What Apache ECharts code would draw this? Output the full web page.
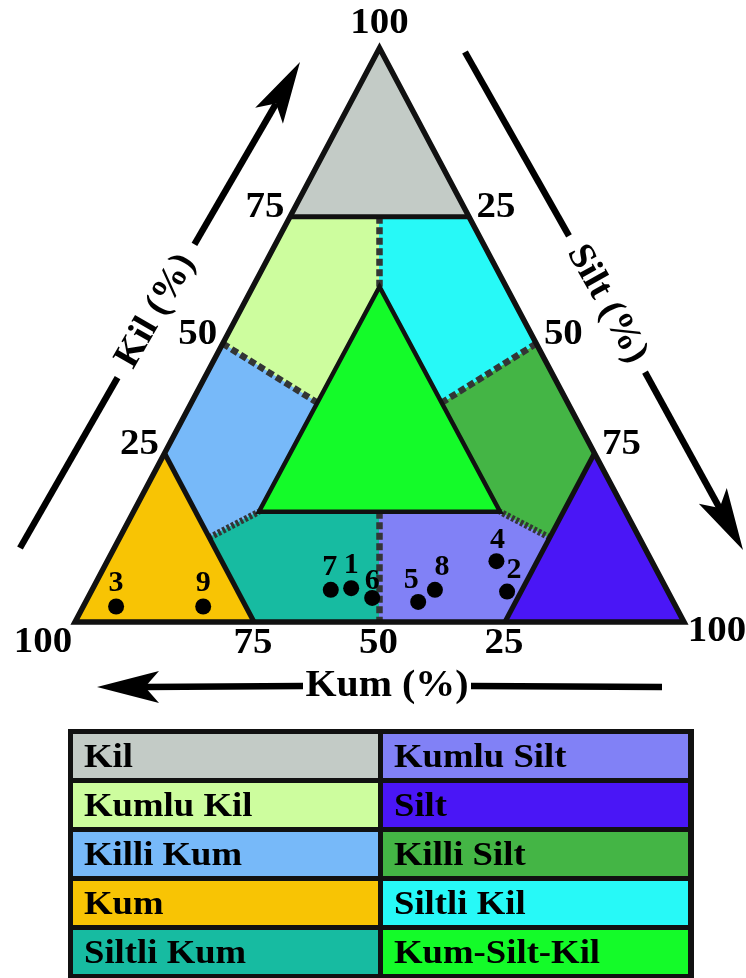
<!DOCTYPE html>
<html>
<head>
<meta charset="utf-8">
<style>
html,body{margin:0;padding:0;background:#ffffff;}
#chart{width:746px;height:978px;}
</style>
<script src="https://cdn.jsdelivr.net/npm/echarts@6/dist/echarts.min.js"></script>
</head>
<body>
<div id="chart"></div>
<script>
// ---------- DATA (ternary units: [Kil %, Silt %], Kum = 100 - Kil - Silt) ----------
const classNames = ['Kil', 'Kumlu Kil', 'Killi Kum', 'Kum', 'Siltli Kum',
                    'Kumlu Silt', 'Silt', 'Killi Silt', 'Siltli Kil', 'Kum-Silt-Kil'];
const classColors = ['#c3cbc6', '#cdfd9e', '#77b9f9', '#f8c404', '#17bba1',
                     '#8181f6', '#4a16f6', '#44b545', '#27f9f7', '#14fb29'];
const classPolygons = [
  [[100, 0], [70.6, 0], [70.6, 29.4]],                                   // Kil
  [[70.6, 0], [70.6, 14.7], [58.4, 20.8], [38.2, 20.7], [48.5, 0]],      // Kumlu Kil
  [[48.5, 0], [29.4, 0], [14.7, 14.7], [19.2, 20.6], [38.2, 20.7]],      // Killi Kum
  [[0, 0], [29.4, 0], [0, 29.4]],                                        // Kum
  [[0, 29.4], [14.7, 14.7], [19.2, 20.6], [19.2, 40.4], [0, 50]],        // Siltli Kum
  [[0, 50], [19.2, 40.4], [19.2, 60.2], [14.7, 70.6], [0, 70.6]],        // Kumlu Silt
  [[0, 100], [29.4, 70.6], [0, 70.6]],                                   // Silt
  [[48.5, 51.5], [29.4, 70.6], [14.7, 70.6], [19.2, 60.2], [38.2, 41.1]],// Killi Silt
  [[70.6, 14.7], [70.6, 29.4], [48.5, 51.5], [38.2, 41.1], [58.4, 20.8]],// Siltli Kil
  [[58.4, 20.8], [19.2, 20.6], [19.2, 60.2]]                             // Kum-Silt-Kil
];
const outerTriangle = [[0, 0], [100, 0], [0, 100]];
const centralTriangle = [[58.4, 20.8], [19.2, 20.6], [19.2, 60.2]];
const solidOpen = [
  [[70.6, 0], [70.6, 29.4]],
  [[29.4, 0], [0, 29.4]],
  [[29.4, 70.6], [0, 70.6]]
];
const dashedLines = [
  [[70.6, 14.7], [58.4, 20.8]],
  [[48.5, 0], [38.2, 20.7]],
  [[48.5, 51.5], [38.2, 41.1]],
  [[19.2, 40.4], [0, 50]]
];
const dottedLines = [
  [[14.7, 14.7], [19.2, 20.6]],
  [[14.7, 70.6], [19.2, 60.2]]
];

const tickLabels = ['25', '50', '75', '100'];
const kilTickValues = [29.4, 48.5, 70.6, 100];
const siltTickValues = [29.4, 51.5, 70.6, 100];
const kumTickValues = [29.4, 50, 70.6, 100];

const sampleIds  = ['1', '2', '3', '4', '5', '6', '7', '8', '9'];
const sampleKil  = [5.9, 5.3, 2.7, 10.6, 3.5, 4.2, 5.6, 5.6, 2.7];
const sampleSilt = [42.4, 68.3, 5.4, 63.9, 54.6, 46.7, 39.2, 56.3, 19.7];

const axisTitles = ['Kil (%)', 'Silt (%)', 'Kum (%)'];

// ---------- helpers ----------
const FONT = '"Liberation Serif","Times New Roman",serif';
const SX = 1.08; // horizontal stretch of the lettering in the original figure
function toXY(p) { return [p[1] + p[0] / 2, p[0]]; }

function lineSeries(lines, closed, style, z) {
  return {
    type: 'custom', coordinateSystem: 'cartesian2d', clip: false, silent: true, z: z,
    data: lines.map((l, i) => [i]),
    renderItem: function (params, api) {
      const pts = lines[params.dataIndex].map(p => api.coord(toXY(p)));
      return {
        type: closed ? 'polygon' : 'polyline',
        shape: { points: pts },
        style: Object.assign({ fill: null, stroke: '#000' }, style)
      };
    }
  };
}

// tick items
const tickItems = [];
kilTickValues.forEach((v, i) => tickItems.push({ p: [v, 0], t: tickLabels[i], side: 'kil', vertex: v === 100 }));
siltTickValues.forEach((v, i) => tickItems.push({ p: [100 - v, v], t: tickLabels[i], side: 'silt', vertex: v === 100 }));
kumTickValues.forEach((v, i) => tickItems.push({ p: [0, 100 - v], t: tickLabels[i], side: 'kum', vertex: v === 100 }));
function tickOffset(it) {
  if (it.side === 'kil') return it.vertex ? [0, -24] : [-25, -9];
  if (it.side === 'silt') return it.vertex ? [33, 10] : [27, -9];
  return it.vertex ? [-32, 21] : [-1, 22];
}

const labelShift = { '2': [7, -21], '4': [1, -21], '5': [-7, -22], '6': [0, -17], '7': [-1, -23], '8': [7, -23] };

const scatterData = sampleIds.map((id, i) => ({
  name: id,
  value: toXY([sampleKil[i], sampleSilt[i]]),
  label: { offset: labelShift[id] || [0, -23] }
}));

// ---------- decorations (arrows, titles, legend table) ----------
const AL = 62, AW = 16, AN = 14;
function arrowGraphics(tail, tip, center, gapHalf, title, rot) {
  const dx = tip[0] - tail[0], dy = tip[1] - tail[1];
  const len = Math.sqrt(dx * dx + dy * dy);
  const u = [dx / len, dy / len], n = [-u[1], u[0]];
  const g1 = [center[0] - u[0] * gapHalf, center[1] - u[1] * gapHalf];
  const g2 = [center[0] + u[0] * gapHalf, center[1] + u[1] * gapHalf];
  const base = [tip[0] - u[0] * (AL - AN), tip[1] - u[1] * (AL - AN)];
  const b0 = [tip[0] - u[0] * AL, tip[1] - u[1] * AL];
  const lineStyle = { stroke: '#000', lineWidth: 6.5 };
  return [
    { type: 'line', shape: { x1: tail[0], y1: tail[1], x2: g1[0], y2: g1[1] }, style: lineStyle },
    { type: 'line', shape: { x1: g2[0], y1: g2[1], x2: base[0], y2: base[1] }, style: lineStyle },
    { type: 'polygon', shape: { points: [tip,
        [b0[0] + n[0] * AW, b0[1] + n[1] * AW], base,
        [b0[0] - n[0] * AW, b0[1] - n[1] * AW]] }, style: { fill: '#000' } },
    { type: 'text', x: center[0], y: center[1], rotation: rot, scaleX: rot === 0 ? SX : 1.04,
      style: { text: title, font: 'bold 37px ' + FONT, fill: '#000', align: 'center', verticalAlign: 'middle',
               textAlign: 'center', textVerticalAlign: 'middle' } }
  ];
}

const graphics = [];
graphics.push(...arrowGraphics([20, 548], [300, 62], [156, 311], 77, axisTitles[0], 60.1 * Math.PI / 180));
graphics.push(...arrowGraphics([465, 52], [743, 550], [607, 304], 78, axisTitles[1], -60.8 * Math.PI / 180));
graphics.push(...arrowGraphics([662, 687], [97, 687], [387, 686], 84, axisTitles[2], 0));

// legend table
graphics.push({ type: 'rect', shape: { x: 68, y: 729, width: 626, height: 252 }, style: { fill: '#111' } });
classNames.forEach((name, i) => {
  const col = Math.floor(i / 5), row = i % 5;
  const x = 73 + col * 310, y = 734 + row * 49;
  graphics.push({ type: 'rect', shape: { x: x, y: y, width: 305, height: 44 }, style: { fill: classColors[i] } });
  graphics.push({ type: 'text', x: x + 11, y: y + 24, scaleX: SX,
    style: { text: name, font: 'bold 34px ' + FONT, fill: '#000', align: 'left', verticalAlign: 'middle',
             textAlign: 'left', textVerticalAlign: 'middle' } });
});

// ---------- chart ----------
const chart = echarts.init(document.getElementById('chart'), null, { renderer: 'canvas' });
const option = {
  animation: false,
  backgroundColor: '#ffffff',
  grid: { left: 75, top: 48, width: 609, height: 574 },
  xAxis: { type: 'value', min: 0, max: 100, show: false },
  yAxis: { type: 'value', min: 0, max: 100, show: false },
  series: [
    {
      type: 'custom', coordinateSystem: 'cartesian2d', clip: false, silent: true, z: 1,
      data: classNames.map((n, i) => [i]),
      renderItem: function (params, api) {
        const i = params.dataIndex;
        const pts = classPolygons[i].map(p => api.coord(toXY(p)));
        return { type: 'polygon', shape: { points: pts },
                 style: { fill: classColors[i], stroke: classColors[i], lineWidth: 1 } };
      }
    },
    lineSeries(dashedLines, false, { stroke: '#333535', lineWidth: 6.5, lineDash: [7, 3.5] }, 2),
    lineSeries(dottedLines, false, { stroke: '#333535', lineWidth: 6.5, lineDash: [3, 2] }, 2),
    lineSeries(solidOpen, false, { stroke: '#111', lineWidth: 5 }, 3),
    lineSeries([centralTriangle], true, { stroke: '#111', lineWidth: 4.5, lineJoin: 'miter' }, 3),
    lineSeries([outerTriangle], true, { stroke: '#111', lineWidth: 5.5, lineJoin: 'miter' }, 3),
    {
      type: 'custom', coordinateSystem: 'cartesian2d', clip: false, silent: true, z: 4,
      data: tickItems.map((t, i) => [i]),
      renderItem: function (params, api) {
        const it = tickItems[params.dataIndex];
        const c = api.coord(toXY(it.p));
        const o = tickOffset(it);
        return { type: 'text', x: c[0] + o[0], y: c[1] + o[1], scaleX: SX,
                 style: { text: it.t, font: 'bold 36px ' + FONT, fill: '#000',
                          align: 'center', verticalAlign: 'middle',
                          textAlign: 'center', textVerticalAlign: 'middle' } };
      }
    },
    {
      type: 'scatter', z: 5, symbol: 'circle', symbolSize: 16, silent: true,
      itemStyle: { color: '#000', opacity: 1 },
      emphasis: { disabled: true },
      label: { show: true, position: 'inside', formatter: '{b}', color: '#000', opacity: 1,
               fontSize: 30, fontWeight: 'bold', fontFamily: FONT, textBorderWidth: 0 },
      data: scatterData
    }
  ],
  graphic: graphics
};
chart.setOption(option);
</script>
</body>
</html>
